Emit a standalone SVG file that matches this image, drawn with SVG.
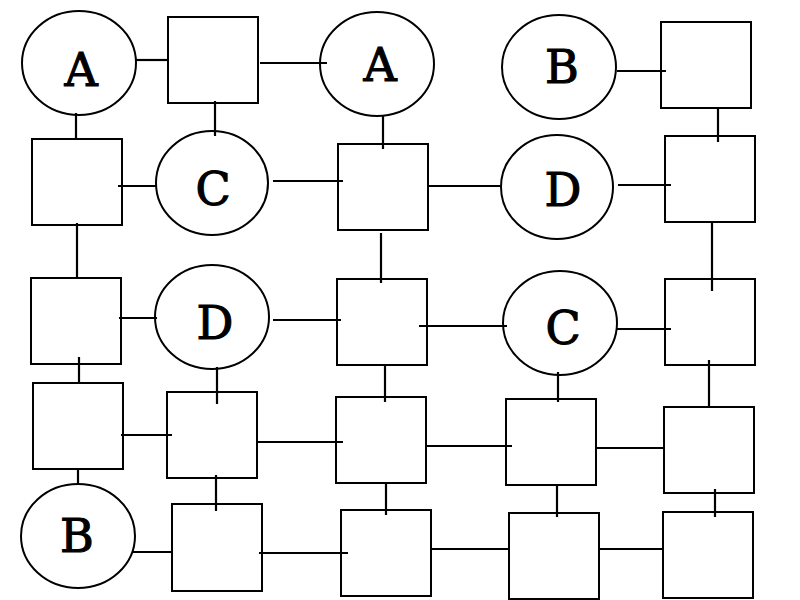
<svg xmlns="http://www.w3.org/2000/svg" width="800" height="600" viewBox="0 0 800 600">
<style>
.n{fill:#fff;stroke:#000;stroke-width:2}
.t{font-family:"DejaVu Serif","Liberation Serif",serif;font-size:46px;text-anchor:middle;fill:#000;stroke:#000;stroke-width:1.1}
#connectors line{stroke:#000;stroke-width:2.2}
</style>
<rect width="800" height="600" fill="#fff"/>
<g id="nodes">
<g id="a1"><ellipse class="n" cx="79" cy="63" rx="57" ry="52"/><text class="t" x="81" y="86">A</text></g>
<g id="r12"><rect class="n" x="168" y="17" width="90" height="86"/></g>
<g id="a2"><ellipse class="n" cx="377" cy="64" rx="57" ry="52"/><text class="t" x="380" y="81">A</text></g>
<g id="b1"><ellipse class="n" cx="559" cy="67" rx="57" ry="52"/><text class="t" x="562" y="83">B</text></g>
<g id="r15"><rect class="n" x="661" y="22" width="90" height="86"/></g>

<g id="r21"><rect class="n" x="32" y="139" width="90" height="86"/></g>
<g id="c1"><ellipse class="n" cx="212" cy="183" rx="56" ry="52"/><text class="t" x="213" y="205">C</text></g>
<g id="r23"><rect class="n" x="338" y="144" width="90" height="86"/></g>
<g id="d1"><ellipse class="n" cx="557" cy="187" rx="56" ry="52"/><text class="t" x="563" y="206">D</text></g>
<g id="r25"><rect class="n" x="665" y="136" width="90" height="86"/></g>

<g id="r31"><rect class="n" x="31" y="278" width="90" height="86"/></g>
<g id="d2"><ellipse class="n" cx="212" cy="317" rx="57" ry="52"/><text class="t" x="215" y="339">D</text></g>
<g id="r33"><rect class="n" x="337" y="279" width="90" height="86"/></g>
<g id="c2"><ellipse class="n" cx="560" cy="323" rx="57" ry="52"/><text class="t" x="563" y="344">C</text></g>
<g id="r35"><rect class="n" x="665" y="279" width="90" height="86"/></g>

<g id="r41"><rect class="n" x="33" y="383" width="90" height="86"/></g>
<g id="r42"><rect class="n" x="167" y="392" width="90" height="86"/></g>
<g id="r43"><rect class="n" x="336" y="397" width="90" height="86"/></g>
<g id="r44"><rect class="n" x="506" y="399" width="90" height="86"/></g>
<g id="r45"><rect class="n" x="664" y="407" width="90" height="86"/></g>

<g id="b2"><ellipse class="n" cx="78" cy="536" rx="57" ry="52"/><text class="t" x="77" y="552">B</text></g>
<g id="r52"><rect class="n" x="172" y="504" width="90" height="87"/></g>
<g id="r53"><rect class="n" x="341" y="510" width="90" height="86"/></g>
<g id="r54"><rect class="n" x="509" y="513" width="90" height="86"/></g>
<g id="r55"><rect class="n" x="663" y="512" width="90" height="86"/></g>
</g>
<g id="connectors">
<line x1="136" y1="60" x2="168" y2="60"/>
<line x1="260" y1="63" x2="327" y2="63"/>
<line x1="617" y1="71" x2="666" y2="71"/>
<line x1="76" y1="113" x2="76" y2="139"/>
<line x1="215" y1="101" x2="215" y2="136"/>
<line x1="383" y1="116" x2="383" y2="149"/>
<line x1="718" y1="107" x2="718" y2="142"/>
<line x1="118" y1="186" x2="156" y2="186"/>
<line x1="273" y1="181" x2="343" y2="181"/>
<line x1="428" y1="186" x2="501" y2="186"/>
<line x1="618" y1="185" x2="671" y2="185"/>
<line x1="77" y1="223" x2="77" y2="278"/>
<line x1="381" y1="233" x2="381" y2="283"/>
<line x1="712" y1="222" x2="712" y2="291"/>
<line x1="119" y1="318" x2="157" y2="318"/>
<line x1="273" y1="320" x2="341" y2="320"/>
<line x1="419" y1="326" x2="507" y2="326"/>
<line x1="617" y1="329" x2="671" y2="329"/>
<line x1="79" y1="357" x2="79" y2="383"/>
<line x1="217" y1="367" x2="217" y2="404"/>
<line x1="385" y1="365" x2="385" y2="402"/>
<line x1="558" y1="372" x2="558" y2="402"/>
<line x1="709" y1="360" x2="709" y2="407"/>
<line x1="121" y1="435" x2="172" y2="435"/>
<line x1="257" y1="442" x2="343" y2="442"/>
<line x1="426" y1="446" x2="512" y2="446"/>
<line x1="597" y1="448" x2="664" y2="448"/>
<line x1="78" y1="469" x2="78" y2="484"/>
<line x1="216" y1="475" x2="216" y2="511"/>
<line x1="386" y1="483" x2="386" y2="515"/>
<line x1="557" y1="485" x2="557" y2="517"/>
<line x1="715" y1="489" x2="715" y2="517"/>
<line x1="133" y1="552" x2="172" y2="552"/>
<line x1="259" y1="553" x2="348" y2="553"/>
<line x1="431" y1="549" x2="509" y2="549"/>
<line x1="599" y1="549" x2="663" y2="549"/>
</g>
</svg>
